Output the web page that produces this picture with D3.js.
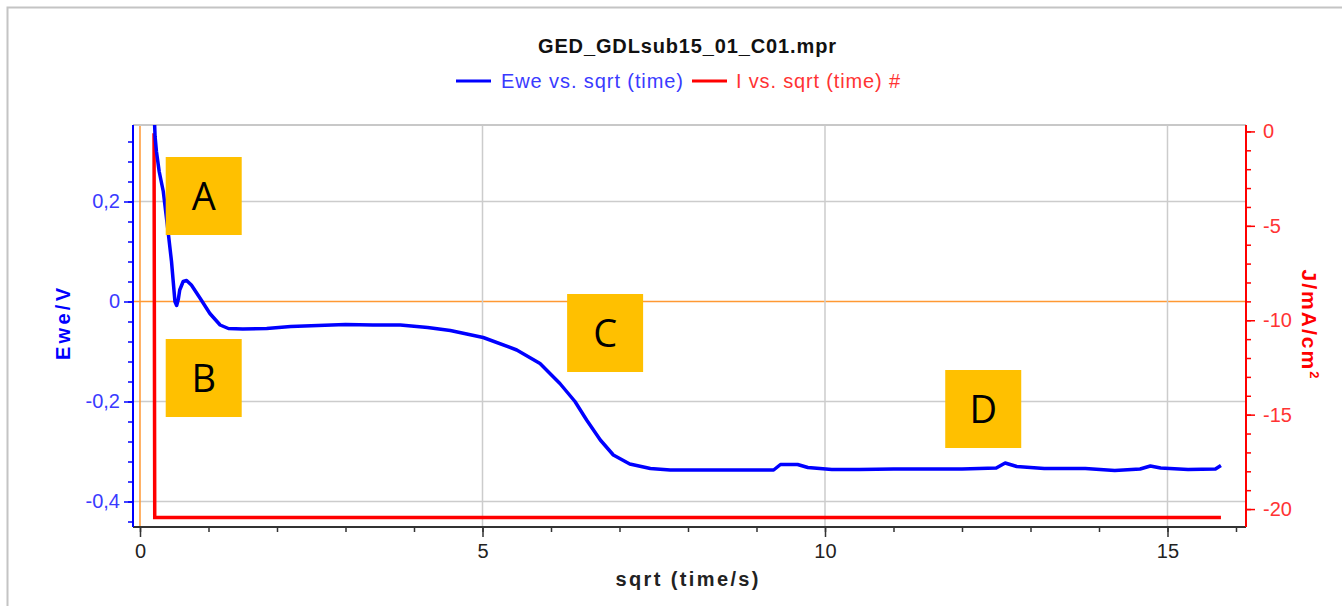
<!DOCTYPE html>
<html>
<head>
<meta charset="utf-8">
<script src="https://cdn.jsdelivr.net/npm/d3@7"></script>
<style>
  html, body { margin: 0; padding: 0; background: #fff; }
  svg { display: block; font-family: "Liberation Sans", Arial, sans-serif; }
</style>
</head>
<body>
<svg id="chart" width="1342" height="606"></svg>
<script>
// ---- data ----
const chartTitle = "GED_GDLsub15_01_C01.mpr";
const ewe_t = [0.20, 0.22, 0.24, 0.28, 0.34, 0.41, 0.46, 0.51, 0.535, 0.56, 0.58, 0.63, 0.68, 0.75, 0.88, 1.02, 1.17, 1.29, 1.5, 1.85, 2.2, 2.6, 3.0, 3.4, 3.8, 4.2, 4.53, 5.01, 5.5, 5.84, 6.13, 6.35, 6.52, 6.72, 6.91, 7.15, 7.45, 7.74, 8.3, 8.9, 9.25, 9.35, 9.6, 9.75, 10.1, 10.5, 11.0, 11.5, 12.0, 12.5, 12.63, 12.8, 13.2, 13.8, 14.23, 14.6, 14.75, 14.9, 15.3, 15.7, 15.78];
const ewe_E = [0.40, 0.33, 0.30, 0.26, 0.22, 0.14, 0.08, 0.00, -0.008, 0.005, 0.023, 0.04, 0.042, 0.033, 0.006, -0.024, -0.047, -0.054, -0.055, -0.054, -0.050, -0.048, -0.046, -0.047, -0.047, -0.052, -0.058, -0.072, -0.097, -0.124, -0.164, -0.2, -0.237, -0.277, -0.307, -0.325, -0.334, -0.337, -0.337, -0.337, -0.337, -0.326, -0.326, -0.332, -0.336, -0.336, -0.335, -0.335, -0.335, -0.333, -0.323, -0.330, -0.334, -0.334, -0.338, -0.335, -0.329, -0.333, -0.336, -0.335, -0.328];
const cur_t = [0.205, 0.215, 1.0, 5.0, 10.0, 15.0, 15.78];
const cur_J = [-0.1, -20.45, -20.45, -20.45, -20.45, -20.45, -20.45];
const xMajorTicks = [0, 5, 10, 15];
const yLeftMajorTicks = [0.2, 0, -0.2, -0.4];
const yRightMajorTicks = [0, -5, -10, -15, -20];
const annotations = [
  { label: "A", t: 0.93, E: 0.211 },
  { label: "B", t: 0.93, E: -0.153 },
  { label: "C", t: 6.79, E: -0.063 },
  { label: "D", t: 12.31, E: -0.215 }
];
const legendItems = [
  { name: "Ewe vs. sqrt (time)", color: "#0000ff", text: "#3a3aff" },
  { name: "I vs. sqrt (time) #", color: "#ff0000", text: "#ff3333" }
];

// ---- layout ----
const L = 133, R = 1246, T = 125, B = 527;
const svg = d3.select("#chart");
const x = d3.scaleLinear().domain([-0.1022, 16.146]).range([L, R]);
const yL = d3.scaleLinear().domain([-0.451, 0.353]).range([B, T]);
const yR = d3.scaleLinear().domain([-20.95, 0.34]).range([B, T]);
const fmtL = d => d === 0 ? "0" : String(d).replace(".", ",");

// outer border
svg.append("rect").attr("x", 7.5).attr("y", 7.5).attr("width", 1340).attr("height", 610)
  .attr("fill", "none").attr("stroke", "#c4c4c4").attr("stroke-width", 2);

// grid
const grid = svg.append("g");
yLeftMajorTicks.forEach(v => {
  grid.append("line").attr("x1", L).attr("x2", R).attr("y1", yL(v)).attr("y2", yL(v))
    .attr("stroke", v === 0 ? "#ff9933" : "#cccccc").attr("stroke-width", 1.5);
});
xMajorTicks.forEach(v => {
  grid.append("line").attr("x1", x(v)).attr("x2", x(v)).attr("y1", T).attr("y2", B)
    .attr("stroke", v === 0 ? "#ff9933" : "#cccccc").attr("stroke-width", 1.5);
});
// top frame
svg.append("line").attr("x1", L).attr("x2", R).attr("y1", T).attr("y2", T)
  .attr("stroke", "#c8c8c8").attr("stroke-width", 2);

// clip
svg.append("clipPath").attr("id", "clip").append("rect")
  .attr("x", L).attr("y", T).attr("width", R - L).attr("height", B - T);

// series
const eweData = ewe_t.map((t, i) => [t, ewe_E[i]]);
const curData = cur_t.map((t, i) => [t, cur_J[i]]);
svg.append("path").datum(curData).attr("clip-path", "url(#clip)")
  .attr("d", d3.line().x(d => x(d[0])).y(d => yR(d[1])))
  .attr("fill", "none").attr("stroke", "#ff0000").attr("stroke-width", 3.5);
svg.append("path").datum(eweData).attr("clip-path", "url(#clip)")
  .attr("d", d3.line().x(d => x(d[0])).y(d => yL(d[1])))
  .attr("fill", "none").attr("stroke", "#0000ff").attr("stroke-width", 3.5).attr("stroke-linejoin", "round");

// axes
// bottom
const xMinor = d3.range(0, 17, 1);
const gx = svg.append("g").attr("transform", `translate(0,${B})`);
gx.call(d3.axisBottom(x).tickValues(xMinor).tickSize(5).tickFormat(""));
gx.call(g => g.select(".domain").remove());
const gx2 = svg.append("g").attr("transform", `translate(0,${B})`)
  .call(d3.axisBottom(x).tickValues(xMajorTicks).tickSize(10).tickFormat(d3.format("d")));
gx2.select(".domain").remove();
gx2.selectAll("text").attr("font-size", 20).attr("fill", "#222").attr("dy", "0.9em").attr("y", 13);
gx.selectAll("line").attr("stroke", "#333").attr("stroke-width", 1.5);
gx2.selectAll("line").attr("stroke", "#333").attr("stroke-width", 1.5);
svg.append("line").attr("x1", L).attr("x2", R).attr("y1", B).attr("y2", B).attr("stroke", "#333").attr("stroke-width", 2);

// left
const gyMinor = svg.append("g").attr("transform", `translate(${L},0)`)
  .call(d3.axisLeft(yL).tickValues(d3.range(-11, 9).map(i => i * 0.04)).tickSize(5).tickFormat(""));
gyMinor.select(".domain").remove();
gyMinor.selectAll("line").attr("stroke", "#0000ff").attr("stroke-width", 1.5);
const gy = svg.append("g").attr("transform", `translate(${L},0)`)
  .call(d3.axisLeft(yL).tickValues(yLeftMajorTicks).tickSize(9).tickFormat(fmtL));
gy.select(".domain").remove();
gy.selectAll("line").attr("stroke", "#0000ff").attr("stroke-width", 1.5);
gy.selectAll("text").attr("font-size", 20).attr("fill", "#3a3aff").attr("x", -13);
svg.append("line").attr("x1", L).attr("x2", L).attr("y1", T).attr("y2", B).attr("stroke", "#0000ff").attr("stroke-width", 2);

// right
const gr = svg.append("g").attr("transform", `translate(${R},0)`)
  .call(d3.axisRight(yR).tickValues(d3.range(-20, 1, 1)).tickSize(5).tickFormat(""));
gr.select(".domain").remove();
gr.selectAll("line").attr("stroke", "#ff0000").attr("stroke-width", 1.5);
const gr2 = svg.append("g").attr("transform", `translate(${R},0)`)
  .call(d3.axisRight(yR).tickValues(yRightMajorTicks).tickSize(9).tickFormat(d => String(d)));
gr2.select(".domain").remove();
gr2.selectAll("line").attr("stroke", "#ff0000").attr("stroke-width", 1.5);
gr2.selectAll("text").attr("font-size", 20).attr("fill", "#ff3333").attr("x", 17);
svg.append("line").attr("x1", R).attr("x2", R).attr("y1", T).attr("y2", B).attr("stroke", "#ff0000").attr("stroke-width", 2);

// annotations
const ann = svg.append("g").selectAll("g").data(annotations).join("g")
  .attr("transform", d => `translate(${x(d.t)},${yL(d.E)})`);
ann.append("rect").attr("x", -38).attr("y", -39).attr("width", 76).attr("height", 78).attr("fill", "#ffc000");
ann.append("text").text(d => d.label).attr("text-anchor", "middle").attr("y", 14)
  .attr("font-family", "'Open Sans', 'Liberation Sans', sans-serif").attr("font-size", 38).attr("fill", "#000");

// titles
svg.append("text").text(chartTitle).attr("x", 687).attr("y", 53).attr("text-anchor", "middle")
  .attr("font-size", 20).attr("font-weight", "bold").attr("fill", "#111").attr("textLength", 298);
svg.append("text").text("sqrt (time/s)").attr("x", 687).attr("y", 586).attr("text-anchor", "middle")
  .attr("font-size", 20).attr("font-weight", "bold").attr("fill", "#222").attr("textLength", 143);
svg.append("text").text("Ewe/V").attr("transform", "translate(70,324) rotate(-90)").attr("text-anchor", "middle")
  .attr("font-size", 20).attr("font-weight", "bold").attr("fill", "#0000ff").attr("textLength", 72);
const rt = svg.append("text").attr("transform", "translate(1302,325) rotate(90)").attr("text-anchor", "middle")
  .attr("font-size", 21).attr("font-weight", "bold").attr("fill", "#ff0000").attr("letter-spacing", 2);
rt.append("tspan").text("J/mA/cm");
rt.append("tspan").text("2").attr("font-size", 13).attr("dy", -8);

// legend
const legX = [456, 692], legTextX = [501, 736], legW = [182, 164];
legendItems.forEach((it, i) => {
  svg.append("line").attr("x1", legX[i]).attr("x2", legX[i] + 35).attr("y1", 81).attr("y2", 81)
    .attr("stroke", it.color).attr("stroke-width", 3);
  svg.append("text").text(it.name).attr("x", legTextX[i]).attr("y", 88).attr("font-size", 20)
    .attr("fill", it.text).attr("textLength", legW[i]);
});
</script>
</body>
</html>
